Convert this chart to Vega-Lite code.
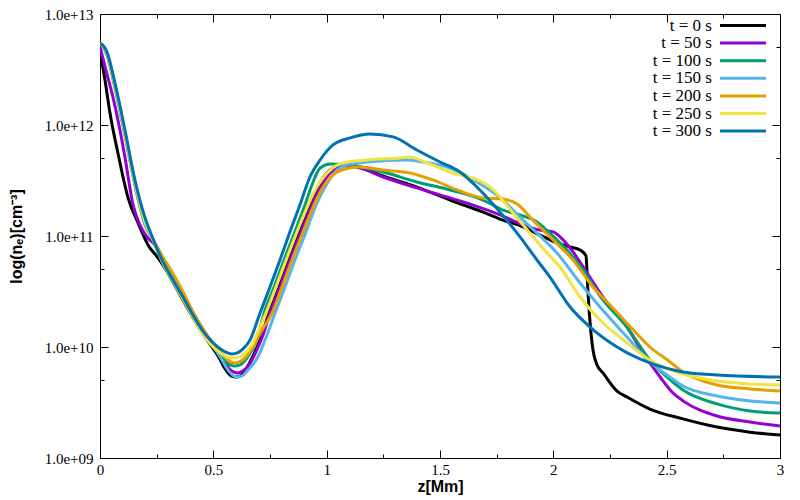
{
"$schema": "https://vega.github.io/schema/vega-lite/v6.json",
"width": 680, "height": 444,
"autosize": "none",
"padding": {"left": 100, "top": 14, "right": 20, "bottom": 42},
"background": "white",
"config": {
  "view": {"stroke": "#000", "strokeWidth": 1},
  "axis": {"grid": false, "domain": false, "tickColor": "#000", "tickWidth": 1, "labelColor": "#000", "labelFont": "Liberation Serif", "labelFontSize": 15, "titleFont": "Liberation Sans", "titleFontWeight": "bold", "titleFontSize": 16, "titleColor": "#000"}
},
"data": {"values": [
{"t":"t = 0 s","z":0,"n":4.74e12},{"t":"t = 0 s","z":0.022,"n":2.54e12},{"t":"t = 0 s","z":0.044,"n":1.28e12},{"t":"t = 0 s","z":0.079,"n":5.6e11},{"t":"t = 0 s","z":0.124,"n":2.2e11},{"t":"t = 0 s","z":0.168,"n":1.31e11},{"t":"t = 0 s","z":0.212,"n":8.3e10},{"t":"t = 0 s","z":0.256,"n":6.34e10},{"t":"t = 0 s","z":0.3,"n":4.64e10},{"t":"t = 0 s","z":0.344,"n":3.2e10},{"t":"t = 0 s","z":0.388,"n":2.2e10},{"t":"t = 0 s","z":0.432,"n":1.55e10},{"t":"t = 0 s","z":0.476,"n":1.13e10},{"t":"t = 0 s","z":0.521,"n":8.3e9},{"t":"t = 0 s","z":0.553,"n":6.3e9},{"t":"t = 0 s","z":0.578,"n":5.5e9},{"t":"t = 0 s","z":0.6,"n":5.37e9},{"t":"t = 0 s","z":0.626,"n":5.6e9},{"t":"t = 0 s","z":0.662,"n":7.33e9},{"t":"t = 0 s","z":0.706,"n":1.16e10},{"t":"t = 0 s","z":0.746,"n":2.02e10},{"t":"t = 0 s","z":0.79,"n":3.47e10},{"t":"t = 0 s","z":0.834,"n":6.08e10},{"t":"t = 0 s","z":0.882,"n":1.09e11},{"t":"t = 0 s","z":0.931,"n":1.9e11},{"t":"t = 0 s","z":0.962,"n":2.76e11},{"t":"t = 0 s","z":1.015,"n":3.93e11},{"t":"t = 0 s","z":1.081,"n":4.45e11},{"t":"t = 0 s","z":1.147,"n":4.19e11},{"t":"t = 0 s","z":1.249,"n":3.47e11},{"t":"t = 0 s","z":1.398,"n":2.76e11},{"t":"t = 0 s","z":1.544,"n":2.11e11},{"t":"t = 0 s","z":1.69,"n":1.64e11},{"t":"t = 0 s","z":1.765,"n":1.42e11},{"t":"t = 0 s","z":1.866,"n":1.21e11},{"t":"t = 0 s","z":1.941,"n":1.02e11},{"t":"t = 0 s","z":2.016,"n":8.66e10},{"t":"t = 0 s","z":2.074,"n":7.97e10},{"t":"t = 0 s","z":2.118,"n":7.48e10},{"t":"t = 0 s","z":2.144,"n":6.61e10},{"t":"t = 0 s","z":2.153,"n":3.07e10},{"t":"t = 0 s","z":2.166,"n":1.34e10},{"t":"t = 0 s","z":2.175,"n":9.41e9},{"t":"t = 0 s","z":2.193,"n":6.88e9},{"t":"t = 0 s","z":2.219,"n":5.84e9},{"t":"t = 0 s","z":2.281,"n":4.01e9},{"t":"t = 0 s","z":2.325,"n":3.55e9},{"t":"t = 0 s","z":2.426,"n":2.76e9},{"t":"t = 0 s","z":2.572,"n":2.25e9},{"t":"t = 0 s","z":2.722,"n":1.9e9},{"t":"t = 0 s","z":2.868,"n":1.71e9},{"t":"t = 0 s","z":3,"n":1.61e9},
{"t":"t = 50 s","z":0,"n":5.05e12},{"t":"t = 50 s","z":0.026,"n":3.13e12},{"t":"t = 50 s","z":0.057,"n":1.78e12},{"t":"t = 50 s","z":0.088,"n":9.03e11},{"t":"t = 50 s","z":0.11,"n":5.15e11},{"t":"t = 50 s","z":0.146,"n":1.9e11},{"t":"t = 50 s","z":0.176,"n":1.26e11},{"t":"t = 50 s","z":0.207,"n":9.81e10},{"t":"t = 50 s","z":0.243,"n":8.3e10},{"t":"t = 50 s","z":0.287,"n":5.84e10},{"t":"t = 50 s","z":0.331,"n":4.01e10},{"t":"t = 50 s","z":0.375,"n":2.76e10},{"t":"t = 50 s","z":0.419,"n":1.9e10},{"t":"t = 50 s","z":0.463,"n":1.34e10},{"t":"t = 50 s","z":0.507,"n":9.81e9},{"t":"t = 50 s","z":0.551,"n":7.18e9},{"t":"t = 50 s","z":0.58,"n":6.1e9},{"t":"t = 50 s","z":0.606,"n":5.84e9},{"t":"t = 50 s","z":0.632,"n":6.1e9},{"t":"t = 50 s","z":0.66,"n":7.0e9},{"t":"t = 50 s","z":0.688,"n":9.03e9},{"t":"t = 50 s","z":0.719,"n":1.28e10},{"t":"t = 50 s","z":0.75,"n":2.02e10},{"t":"t = 50 s","z":0.794,"n":3.47e10},{"t":"t = 50 s","z":0.838,"n":6.08e10},{"t":"t = 50 s","z":0.887,"n":1.09e11},{"t":"t = 50 s","z":0.935,"n":1.9e11},{"t":"t = 50 s","z":0.971,"n":2.71e11},{"t":"t = 50 s","z":1.015,"n":3.7e11},{"t":"t = 50 s","z":1.081,"n":4.27e11},{"t":"t = 50 s","z":1.147,"n":4.1e11},{"t":"t = 50 s","z":1.249,"n":3.4e11},{"t":"t = 50 s","z":1.398,"n":2.71e11},{"t":"t = 50 s","z":1.5,"n":2.34e11},{"t":"t = 50 s","z":1.646,"n":1.9e11},{"t":"t = 50 s","z":1.765,"n":1.55e11},{"t":"t = 50 s","z":1.866,"n":1.26e11},{"t":"t = 50 s","z":1.941,"n":1.13e11},{"t":"t = 50 s","z":1.999,"n":1.09e11},{"t":"t = 50 s","z":2.043,"n":9.22e10},{"t":"t = 50 s","z":2.087,"n":7.18e10},{"t":"t = 50 s","z":2.149,"n":4.64e10},{"t":"t = 50 s","z":2.219,"n":2.82e10},{"t":"t = 50 s","z":2.325,"n":1.51e10},{"t":"t = 50 s","z":2.396,"n":8.84e9},{"t":"t = 50 s","z":2.471,"n":5.37e9},{"t":"t = 50 s","z":2.528,"n":3.85e9},{"t":"t = 50 s","z":2.572,"n":3.27e9},{"t":"t = 50 s","z":2.722,"n":2.39e9},{"t":"t = 50 s","z":2.868,"n":2.11e9},{"t":"t = 50 s","z":3,"n":1.94e9},
{"t":"t = 100 s","z":0,"n":5.48e12},{"t":"t = 100 s","z":0.031,"n":4.27e12},{"t":"t = 100 s","z":0.066,"n":2.15e12},{"t":"t = 100 s","z":0.11,"n":8.14e11},{"t":"t = 100 s","z":0.154,"n":2.88e11},{"t":"t = 100 s","z":0.199,"n":1.26e11},{"t":"t = 100 s","z":0.229,"n":9.61e10},{"t":"t = 100 s","z":0.278,"n":5.6e10},{"t":"t = 100 s","z":0.322,"n":3.85e10},{"t":"t = 100 s","z":0.366,"n":2.71e10},{"t":"t = 100 s","z":0.41,"n":1.86e10},{"t":"t = 100 s","z":0.454,"n":1.34e10},{"t":"t = 100 s","z":0.499,"n":1.02e10},{"t":"t = 100 s","z":0.538,"n":8.14e9},{"t":"t = 100 s","z":0.565,"n":7.1e9},{"t":"t = 100 s","z":0.592,"n":6.74e9},{"t":"t = 100 s","z":0.62,"n":6.95e9},{"t":"t = 100 s","z":0.645,"n":7.8e9},{"t":"t = 100 s","z":0.671,"n":9.41e9},{"t":"t = 100 s","z":0.697,"n":1.28e10},{"t":"t = 100 s","z":0.724,"n":2.02e10},{"t":"t = 100 s","z":0.768,"n":3.47e10},{"t":"t = 100 s","z":0.812,"n":6.08e10},{"t":"t = 100 s","z":0.86,"n":1.09e11},{"t":"t = 100 s","z":0.904,"n":1.9e11},{"t":"t = 100 s","z":0.935,"n":2.88e11},{"t":"t = 100 s","z":0.971,"n":4.1e11},{"t":"t = 100 s","z":1.015,"n":4.45e11},{"t":"t = 100 s","z":1.103,"n":4.36e11},{"t":"t = 100 s","z":1.249,"n":3.77e11},{"t":"t = 100 s","z":1.398,"n":3.07e11},{"t":"t = 100 s","z":1.544,"n":2.6e11},{"t":"t = 100 s","z":1.69,"n":2.11e11},{"t":"t = 100 s","z":1.778,"n":1.71e11},{"t":"t = 100 s","z":1.853,"n":1.55e11},{"t":"t = 100 s","z":1.928,"n":1.34e11},{"t":"t = 100 s","z":1.985,"n":1.06e11},{"t":"t = 100 s","z":2.06,"n":7.48e10},{"t":"t = 100 s","z":2.131,"n":4.94e10},{"t":"t = 100 s","z":2.206,"n":2.88e10},{"t":"t = 100 s","z":2.325,"n":1.51e10},{"t":"t = 100 s","z":2.426,"n":7.65e9},{"t":"t = 100 s","z":2.501,"n":5.37e9},{"t":"t = 100 s","z":2.572,"n":4.1e9},{"t":"t = 100 s","z":2.722,"n":3.07e9},{"t":"t = 100 s","z":2.868,"n":2.65e9},{"t":"t = 100 s","z":3,"n":2.54e9},
{"t":"t = 150 s","z":0,"n":5.48e12},{"t":"t = 150 s","z":0.031,"n":4.36e12},{"t":"t = 150 s","z":0.066,"n":2.25e12},{"t":"t = 150 s","z":0.11,"n":8.3e11},{"t":"t = 150 s","z":0.154,"n":2.94e11},{"t":"t = 150 s","z":0.199,"n":1.28e11},{"t":"t = 150 s","z":0.229,"n":9.61e10},{"t":"t = 150 s","z":0.274,"n":6.47e10},{"t":"t = 150 s","z":0.318,"n":4.55e10},{"t":"t = 150 s","z":0.362,"n":3.13e10},{"t":"t = 150 s","z":0.406,"n":2.11e10},{"t":"t = 150 s","z":0.45,"n":1.48e10},{"t":"t = 150 s","z":0.494,"n":1.06e10},{"t":"t = 150 s","z":0.538,"n":7.65e9},{"t":"t = 150 s","z":0.57,"n":6.0e9},{"t":"t = 150 s","z":0.6,"n":5.37e9},{"t":"t = 150 s","z":0.627,"n":5.5e9},{"t":"t = 150 s","z":0.653,"n":6.2e9},{"t":"t = 150 s","z":0.697,"n":8.14e9},{"t":"t = 150 s","z":0.732,"n":1.21e10},{"t":"t = 150 s","z":0.772,"n":2.02e10},{"t":"t = 150 s","z":0.816,"n":3.47e10},{"t":"t = 150 s","z":0.86,"n":6.08e10},{"t":"t = 150 s","z":0.909,"n":1.09e11},{"t":"t = 150 s","z":0.953,"n":1.9e11},{"t":"t = 150 s","z":0.993,"n":2.76e11},{"t":"t = 150 s","z":1.037,"n":3.77e11},{"t":"t = 150 s","z":1.103,"n":4.45e11},{"t":"t = 150 s","z":1.178,"n":4.64e11},{"t":"t = 150 s","z":1.354,"n":4.84e11},{"t":"t = 150 s","z":1.425,"n":4.64e11},{"t":"t = 150 s","z":1.544,"n":4.1e11},{"t":"t = 150 s","z":1.663,"n":3.07e11},{"t":"t = 150 s","z":1.778,"n":2.11e11},{"t":"t = 150 s","z":1.853,"n":1.48e11},{"t":"t = 150 s","z":1.928,"n":1.06e11},{"t":"t = 150 s","z":2.016,"n":7.03e10},{"t":"t = 150 s","z":2.118,"n":3.77e10},{"t":"t = 150 s","z":2.206,"n":2.29e10},{"t":"t = 150 s","z":2.325,"n":1.23e10},{"t":"t = 150 s","z":2.426,"n":7.33e9},{"t":"t = 150 s","z":2.501,"n":5.6e9},{"t":"t = 150 s","z":2.572,"n":4.45e9},{"t":"t = 150 s","z":2.722,"n":3.62e9},{"t":"t = 150 s","z":2.868,"n":3.27e9},{"t":"t = 150 s","z":3,"n":3.13e9},
{"t":"t = 200 s","z":0,"n":5.48e12},{"t":"t = 200 s","z":0.031,"n":4.45e12},{"t":"t = 200 s","z":0.066,"n":2.29e12},{"t":"t = 200 s","z":0.11,"n":8.49e11},{"t":"t = 200 s","z":0.154,"n":3.0e11},{"t":"t = 200 s","z":0.199,"n":1.34e11},{"t":"t = 200 s","z":0.229,"n":9.81e10},{"t":"t = 200 s","z":0.274,"n":6.61e10},{"t":"t = 200 s","z":0.318,"n":4.74e10},{"t":"t = 200 s","z":0.362,"n":3.27e10},{"t":"t = 200 s","z":0.406,"n":2.15e10},{"t":"t = 200 s","z":0.45,"n":1.51e10},{"t":"t = 200 s","z":0.494,"n":1.11e10},{"t":"t = 200 s","z":0.538,"n":8.66e9},{"t":"t = 200 s","z":0.565,"n":7.6e9},{"t":"t = 200 s","z":0.59,"n":7.18e9},{"t":"t = 200 s","z":0.615,"n":7.35e9},{"t":"t = 200 s","z":0.64,"n":7.97e9},{"t":"t = 200 s","z":0.679,"n":1.04e10},{"t":"t = 200 s","z":0.715,"n":1.42e10},{"t":"t = 200 s","z":0.759,"n":2.02e10},{"t":"t = 200 s","z":0.803,"n":3.47e10},{"t":"t = 200 s","z":0.847,"n":6.08e10},{"t":"t = 200 s","z":0.896,"n":1.09e11},{"t":"t = 200 s","z":0.944,"n":1.9e11},{"t":"t = 200 s","z":0.984,"n":2.76e11},{"t":"t = 200 s","z":1.028,"n":3.55e11},{"t":"t = 200 s","z":1.081,"n":4.01e11},{"t":"t = 200 s","z":1.147,"n":4.19e11},{"t":"t = 200 s","z":1.249,"n":3.93e11},{"t":"t = 200 s","z":1.368,"n":3.7e11},{"t":"t = 200 s","z":1.469,"n":3.2e11},{"t":"t = 200 s","z":1.575,"n":2.6e11},{"t":"t = 200 s","z":1.69,"n":2.2e11},{"t":"t = 200 s","z":1.778,"n":2.15e11},{"t":"t = 200 s","z":1.84,"n":1.94e11},{"t":"t = 200 s","z":1.91,"n":1.39e11},{"t":"t = 200 s","z":1.999,"n":9.22e10},{"t":"t = 200 s","z":2.087,"n":6.08e10},{"t":"t = 200 s","z":2.175,"n":3.47e10},{"t":"t = 200 s","z":2.25,"n":2.39e10},{"t":"t = 200 s","z":2.325,"n":1.64e10},{"t":"t = 200 s","z":2.426,"n":1.0e10},{"t":"t = 200 s","z":2.515,"n":7.33e9},{"t":"t = 200 s","z":2.572,"n":5.96e9},{"t":"t = 200 s","z":2.647,"n":5.05e9},{"t":"t = 200 s","z":2.722,"n":4.55e9},{"t":"t = 200 s","z":2.868,"n":4.19e9},{"t":"t = 200 s","z":3,"n":4.01e9},
{"t":"t = 250 s","z":0,"n":5.48e12},{"t":"t = 250 s","z":0.031,"n":4.45e12},{"t":"t = 250 s","z":0.066,"n":2.29e12},{"t":"t = 250 s","z":0.11,"n":8.66e11},{"t":"t = 250 s","z":0.154,"n":3.07e11},{"t":"t = 250 s","z":0.199,"n":1.34e11},{"t":"t = 250 s","z":0.229,"n":9.81e10},{"t":"t = 250 s","z":0.278,"n":5.71e10},{"t":"t = 250 s","z":0.322,"n":3.93e10},{"t":"t = 250 s","z":0.366,"n":2.71e10},{"t":"t = 250 s","z":0.41,"n":1.86e10},{"t":"t = 250 s","z":0.454,"n":1.31e10},{"t":"t = 250 s","z":0.499,"n":1.0e10},{"t":"t = 250 s","z":0.538,"n":8.66e9},{"t":"t = 250 s","z":0.56,"n":8.15e9},{"t":"t = 250 s","z":0.585,"n":7.97e9},{"t":"t = 250 s","z":0.61,"n":8.1e9},{"t":"t = 250 s","z":0.635,"n":8.6e9},{"t":"t = 250 s","z":0.671,"n":1.04e10},{"t":"t = 250 s","z":0.697,"n":1.37e10},{"t":"t = 250 s","z":0.732,"n":2.02e10},{"t":"t = 250 s","z":0.776,"n":3.47e10},{"t":"t = 250 s","z":0.821,"n":6.08e10},{"t":"t = 250 s","z":0.869,"n":1.09e11},{"t":"t = 250 s","z":0.918,"n":1.9e11},{"t":"t = 250 s","z":0.957,"n":2.76e11},{"t":"t = 250 s","z":1.015,"n":3.93e11},{"t":"t = 250 s","z":1.072,"n":4.55e11},{"t":"t = 250 s","z":1.178,"n":4.84e11},{"t":"t = 250 s","z":1.324,"n":5.05e11},{"t":"t = 250 s","z":1.368,"n":5.15e11},{"t":"t = 250 s","z":1.443,"n":4.55e11},{"t":"t = 250 s","z":1.544,"n":3.77e11},{"t":"t = 250 s","z":1.663,"n":3.2e11},{"t":"t = 250 s","z":1.721,"n":2.76e11},{"t":"t = 250 s","z":1.765,"n":2.25e11},{"t":"t = 250 s","z":1.822,"n":1.61e11},{"t":"t = 250 s","z":1.897,"n":1.06e11},{"t":"t = 250 s","z":1.972,"n":7.03e10},{"t":"t = 250 s","z":2.029,"n":5.26e10},{"t":"t = 250 s","z":2.118,"n":2.82e10},{"t":"t = 250 s","z":2.206,"n":1.75e10},{"t":"t = 250 s","z":2.325,"n":1.09e10},{"t":"t = 250 s","z":2.426,"n":7.65e9},{"t":"t = 250 s","z":2.572,"n":5.71e9},{"t":"t = 250 s","z":2.722,"n":4.94e9},{"t":"t = 250 s","z":2.868,"n":4.64e9},{"t":"t = 250 s","z":3,"n":4.55e9},
{"t":"t = 300 s","z":0,"n":5.48e12},{"t":"t = 300 s","z":0.031,"n":4.55e12},{"t":"t = 300 s","z":0.066,"n":2.39e12},{"t":"t = 300 s","z":0.11,"n":9.03e11},{"t":"t = 300 s","z":0.154,"n":3.2e11},{"t":"t = 300 s","z":0.199,"n":1.45e11},{"t":"t = 300 s","z":0.229,"n":1.0e11},{"t":"t = 300 s","z":0.278,"n":5.84e10},{"t":"t = 300 s","z":0.322,"n":4.01e10},{"t":"t = 300 s","z":0.366,"n":2.82e10},{"t":"t = 300 s","z":0.41,"n":1.94e10},{"t":"t = 300 s","z":0.454,"n":1.39e10},{"t":"t = 300 s","z":0.499,"n":1.09e10},{"t":"t = 300 s","z":0.538,"n":9.41e9},{"t":"t = 300 s","z":0.56,"n":8.9e9},{"t":"t = 300 s","z":0.582,"n":8.66e9},{"t":"t = 300 s","z":0.606,"n":8.85e9},{"t":"t = 300 s","z":0.631,"n":9.61e9},{"t":"t = 300 s","z":0.662,"n":1.16e10},{"t":"t = 300 s","z":0.706,"n":2.02e10},{"t":"t = 300 s","z":0.75,"n":3.47e10},{"t":"t = 300 s","z":0.794,"n":6.08e10},{"t":"t = 300 s","z":0.838,"n":1.09e11},{"t":"t = 300 s","z":0.882,"n":1.9e11},{"t":"t = 300 s","z":0.926,"n":3.4e11},{"t":"t = 300 s","z":0.971,"n":4.84e11},{"t":"t = 300 s","z":1.028,"n":6.61e11},{"t":"t = 300 s","z":1.103,"n":7.65e11},{"t":"t = 300 s","z":1.191,"n":8.3e11},{"t":"t = 300 s","z":1.293,"n":7.81e11},{"t":"t = 300 s","z":1.398,"n":5.96e11},{"t":"t = 300 s","z":1.5,"n":4.64e11},{"t":"t = 300 s","z":1.588,"n":3.77e11},{"t":"t = 300 s","z":1.676,"n":2.6e11},{"t":"t = 300 s","z":1.765,"n":1.64e11},{"t":"t = 300 s","z":1.853,"n":9.81e10},{"t":"t = 300 s","z":1.928,"n":6.08e10},{"t":"t = 300 s","z":1.985,"n":4.27e10},{"t":"t = 300 s","z":2.074,"n":2.29e10},{"t":"t = 300 s","z":2.162,"n":1.51e10},{"t":"t = 300 s","z":2.281,"n":1.0e10},{"t":"t = 300 s","z":2.426,"n":7.18e9},{"t":"t = 300 s","z":2.572,"n":5.96e9},{"t":"t = 300 s","z":2.722,"n":5.6e9},{"t":"t = 300 s","z":3,"n":5.37e9}
]},
"layer": [
  {
    "mark": {"type": "line", "strokeWidth": 3, "interpolate": "monotone", "clip": true},
    "encoding": {
      "x": {"field": "z", "type": "quantitative", "scale": {"domain": [0, 3], "nice": false, "zero": false},
        "axis": {"orient": "bottom", "title": "z[Mm]", "values": [0,0.25,0.5,0.75,1,1.25,1.5,1.75,2,2.25,2.5,2.75,3], "format": "~g",
          "labelExpr": "(datum.value*4)%2==1 ? '' : datum.label",
          "tickSize": {"condition": {"test": "(datum.value*4)%2==1", "value": -4}, "value": -8},
          "labelPadding": 12, "titlePadding": 1, "labelFlush": false}},
      "y": {"field": "n", "type": "quantitative", "scale": {"type": "log", "domain": [1e9, 1e13], "nice": false},
        "axis": {"orient": "left", "title": "log(nₑ)[cm⁻³]", "values": [1e9,5e9,1e10,5e10,1e11,5e11,1e12,5e12,1e13],
          "labelExpr": "datum.value/pow(10,floor(log(datum.value)/LN10+1e-9)) > 2 ? '' : '1.0e+' + (datum.value < 1e10 ? '0' : '') + round(log(datum.value)/LN10)",
          "tickSize": {"condition": {"test": "datum.value/pow(10,floor(log(datum.value)/LN10+1e-9)) > 2", "value": -4}, "value": -8},
          "labelPadding": 15, "titlePadding": 20, "labelFlush": false}},
      "color": {"field": "t", "type": "nominal",
        "scale": {"domain": ["t = 0 s","t = 50 s","t = 100 s","t = 150 s","t = 200 s","t = 250 s","t = 300 s"],
                  "range": ["#000000","#9400D3","#009E73","#56B4E9","#E69F00","#F0E442","#0072B2"]},
        "legend": {"orient": "none", "legendX": 634.5, "legendY": 3, "title": null, "padding": 0,
          "symbolType": "M-4.6,0H4.6", "symbolSize": 100, "symbolStrokeWidth": 3,
          "labelAlign": "right", "labelOffset": -39.5, "labelFont": "Liberation Serif", "labelFontSize": 17, "labelColor": "#000",
          "rowPadding": -0.4}}
    }
  },
  {
    "mark": {"type": "line", "strokeOpacity": 0, "interpolate": "monotone"},
    "encoding": {
      "x": {"field": "z", "type": "quantitative",
        "axis": {"orient": "top", "title": null, "labels": false, "values": [0,0.25,0.5,0.75,1,1.25,1.5,1.75,2,2.25,2.5,2.75,3],
          "tickSize": {"condition": {"test": "(datum.value*4)%2==1", "value": -4}, "value": -8}}},
      "y": {"field": "n", "type": "quantitative",
        "axis": {"orient": "right", "title": null, "labels": false, "values": [1e9,5e9,1e10,5e10,1e11,5e11,1e12,5e12,1e13],
          "tickSize": {"condition": {"test": "datum.value/pow(10,floor(log(datum.value)/LN10+1e-9)) > 2", "value": -4}, "value": -8}}},
      "detail": {"field": "t"}
    }
  }
],
"resolve": {"axis": {"x": "independent", "y": "independent"}}
}
